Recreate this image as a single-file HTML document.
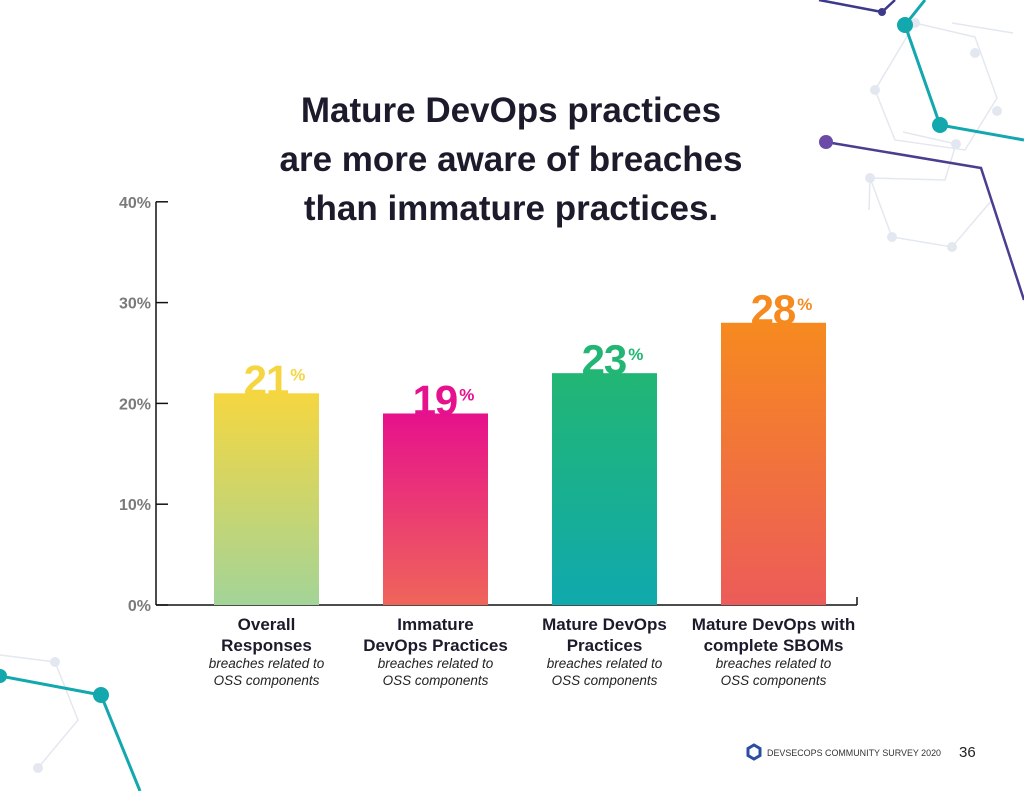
<!DOCTYPE html>
<html><head><meta charset="utf-8"><style>
body{margin:0;background:#fff;width:1024px;height:791px;overflow:hidden;font-family:"Liberation Sans",sans-serif}
svg{display:block}
</style></head><body>
<svg id="chart" width="1024" height="791">
<defs>
<linearGradient id="g0" x1="0" y1="0" x2="0" y2="1"><stop offset="0" stop-color="#f5d640"/><stop offset="1" stop-color="#a3d498"/></linearGradient>
<linearGradient id="g1" x1="0" y1="0" x2="0" y2="1"><stop offset="0" stop-color="#e6118c"/><stop offset="1" stop-color="#ef655a"/></linearGradient>
<linearGradient id="g2" x1="0" y1="0" x2="0" y2="1"><stop offset="0" stop-color="#22b674"/><stop offset="1" stop-color="#10a9ad"/></linearGradient>
<linearGradient id="g3" x1="0" y1="0" x2="0" y2="1"><stop offset="0" stop-color="#f68a1f"/><stop offset="1" stop-color="#ec5b59"/></linearGradient>
</defs>
<g fill="none">
<g stroke="#e3e8f0" stroke-width="1.5">
<polyline points="915,23 975,37 997,98 965,150 895,140 875,90 915,23"/>
<polyline points="903,132 956,144 945,180 870,178 869,210"/>
<polyline points="870,178 892,237 952,247 992,200"/>
<polyline points="952,23 1013,33"/>
<polyline points="0,655 55,662 78,720 38,768"/>
</g>
<g fill="#e3e8f0"><circle cx="915" cy="23" r="5"/><circle cx="975" cy="53" r="5"/><circle cx="997" cy="111" r="5"/><circle cx="875" cy="90" r="5"/><circle cx="892" cy="237" r="5"/><circle cx="952" cy="247" r="5"/><circle cx="870" cy="178" r="5"/><circle cx="956" cy="144" r="5"/><circle cx="55" cy="662" r="5"/><circle cx="38" cy="768" r="5"/></g>
<polyline points="819,0 882,12 895,0" stroke="#3c3a8a" stroke-width="2.5"/>
<circle cx="882" cy="12" r="4" fill="#3c3a8a"/>
<polyline points="925,0 905,25 940,125 1024,140" stroke="#12a8ad" stroke-width="3"/>
<circle cx="905" cy="25" r="8" fill="#12a8ad"/><circle cx="940" cy="125" r="8" fill="#12a8ad"/>
<polyline points="826,142 981,168 1024,300" stroke="#4b3d8f" stroke-width="2.5"/>
<circle cx="826" cy="142" r="7" fill="#6b4aa8"/>
<polyline points="0,676 101,695 140,791" stroke="#12a8ad" stroke-width="3"/>
<circle cx="0" cy="676" r="7" fill="#12a8ad"/><circle cx="101" cy="695" r="8" fill="#12a8ad"/>
</g>
<g font-size="35" font-weight="bold" fill="#1b1b2b" text-anchor="middle">
<text x="511" y="122">Mature DevOps practices</text>
<text x="511" y="171">are more aware of breaches</text>
<text x="511" y="220">than immature practices.</text>
</g>
<g id="axis"></g>
<g id="bars"></g>
<g>
<polygon points="754,745 760,748.5 760,755.5 754,759 748,755.5 748,748.5" fill="none" stroke="#2a4f9e" stroke-width="3"/>
<text x="767" y="756" font-size="9.5" fill="#333" textLength="174" lengthAdjust="spacingAndGlyphs">DEVSECOPS COMMUNITY SURVEY 2020</text>
<text x="959" y="757" font-size="15" fill="#222">36</text>
</g>
</svg>
<script>
const categories1 = ["Overall","Immature","Mature DevOps","Mature DevOps with"];
const categories2 = ["Responses","DevOps Practices","Practices","complete SBOMs"];
const values = [21, 19, 23, 28];
const tickValues = [0, 10, 20, 30, 40];
const tickLabels = ["0%","10%","20%","30%","40%"];
const colors = ["#f5d640","#e6118c","#22b674","#f68a1f"];
const NS = "http://www.w3.org/2000/svg";
const y0 = 605, pxPer = 10.08;
const y = v => y0 - v * pxPer;
const x = i => 214 + i * 169;
const bw = 105;
function mk(tag, attrs, parent, txt){const e=document.createElementNS(NS,tag);for(const k in attrs)e.setAttribute(k,attrs[k]);if(txt!==undefined)e.textContent=txt;parent.appendChild(e);return e;}
const axis = document.getElementById('axis');
const al = mk('line',{x1:156,y1:y(40),x2:156,y2:y0,stroke:'#111','stroke-width':1.5},axis);


const bl = mk('line',{x1:156,y1:y0,x2:857,y2:y0,stroke:'#111','stroke-width':1.5},axis);


mk('line',{x1:857,y1:y0,x2:857,y2:y0-8,stroke:'#111','stroke-width':1.5},axis);
tickValues.forEach((t,i)=>{
  const tk = mk('line',{x1:156,y1:y(t),x2:168,y2:y(t),stroke:'#111','stroke-width':1.5},axis);
  
  
  const lb = mk('text',{x:151,y:y(t)+6,'text-anchor':'end','font-size':16,'font-weight':'bold',fill:'#7a7a7a'},axis,tickLabels[i]);
  
  
});
const bars = document.getElementById('bars');
values.forEach((v,i)=>{
  const r = mk('rect',{x:x(i),y:y(v),width:bw,height:y0-y(v),fill:'url(#g'+i+')'},bars);
  
  
  const t = mk('text',{x:x(i)+bw/2+8,y:y(v)+1,'text-anchor':'middle',fill:colors[i],'font-weight':'bold'},bars);
  
  
  mk('tspan',{'font-size':42,'letter-spacing':-1},t,String(v));
  mk('tspan',{'font-size':17,dx:2,dy:-14},t,'%');
  const cx = x(i)+bw/2;
  const c = mk('text',{x:cx,y:630,'text-anchor':'middle','font-size':17,'font-weight':'bold',fill:'#1b1b2b'},bars);
  
  
  mk('tspan',{x:cx,dy:0},c,categories1[i]);
  mk('tspan',{x:cx,dy:21},c,categories2[i]);
  const s = mk('text',{x:cx,y:668,'text-anchor':'middle','font-size':13.5,'font-style':'italic',fill:'#222'},bars);
  
  
  mk('tspan',{x:cx,dy:0},s,'breaches related to');
  mk('tspan',{x:cx,dy:17},s,'OSS components');
});
</script>
</body></html>
